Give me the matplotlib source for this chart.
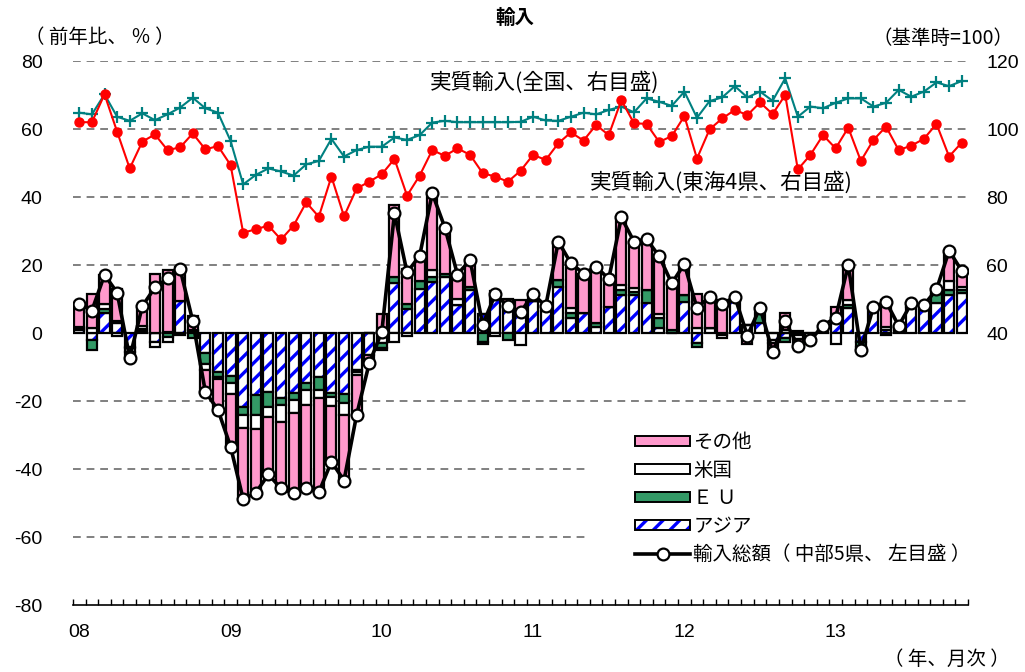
import matplotlib
matplotlib.use('Agg')
import matplotlib.pyplot as plt
import numpy as np
from matplotlib.patches import Patch
from matplotlib.lines import Line2D
from matplotlib.legend_handler import HandlerTuple

plt.rcParams['font.family'] = ['Noto Sans CJK JP', 'DejaVu Sans']
plt.rcParams['hatch.linewidth'] = 2.4

# ---------------- data (2008-01 .. 2013-11, monthly) ----------------
year_labels = ['08', '09', '10', '11', '12', '13']

asia = [0.8, -2, 6, 3, -4, 0.5, -2.5, 0.3, 9.5, 0.5,
        -6, -11.4, -12.6, -21.9, -18.2, -17.3, -19.2, -17.5, -14.8, -13,
        -17.5, -17.9, -10.9, -6.5, -3, 14.8, 7.2, 13, 15.1, 16.5,
        8.2, 12.6, 5.5, 10.7, 8, 6.7, 9.4, 6.5, 13.6, 4.3,
        5.8, 1.9, 7.7, 11.2, 11.2, 8.7, 1.5, 0, 9.2, -3,
        1.4, 0, 9.7, 2.5, 3, -2, -1.5, -0.5, -1, 1,
        2.8, 7.3, -2.5, 7.7, 0.9, 1.5, 7.7, 7.2, 8.7, 11.2, 11.7]
eu = [0.3, -3, 1.2, 0.5, -0.5, 0.7, 0, -1.3, -0.5, -1.5,
      -3, -1.5, -2.2, -2.3, -5.9, -4.4, -2, -2.2, -2, -3.7,
      -1.4, -2.7, -0.5, 0, -1.5, 1.8, 1.4, 2.4, 1.3, 1,
      0, 1, -2.5, 0, -2, 0, 0, 1.4, 2, 1.5,
      0, 1, 0, 1.5, 1, 3.9, 2.9, 1, 2, -1.2,
      0, -0.5, 1, 0, 4.5, 0, -1, 0.5, -0.6, 1.2,
      0, 1, -1.5, 0, -0.5, 0.6, 1, 1, 2.9, 1.5, 1]
us = [0.8, 1.5, 1.2, -1, -1, 1, -1.5, -1.2, 0, 0.5,
      -2, -0.5, -3, -3.6, -4.2, -2.9, -4.9, -3.9, -4.4, -2.5,
      -2.5, -3.4, -1, 0, -0.6, -2.5, -1, 0, 2.2, 0,
      1.7, 0, -0.6, -1, 0, -3.5, 0, 0, 0, 1.5,
      0, 0, 0, 1.5, 1, 0, 1.3, 0, 0, 1.5,
      0, -0.9, 0, 0, 0, -1, 1, -1.2, 0, 0,
      -3.2, 1.5, 0, 0, 1, 0, 0, 0, 0, 2.5, 0.7]
other = [6.5, 10.1, 8.7, 9.4, -1.8, 5.7, 17.4, 18.3, 9.8, 4,
         -6.3, -9.2, -15.6, -21.1, -18.7, -17.0, -19.6, -23.6, -24.5, -27.7,
         -16.4, -19.4, -11.7, -2.4, 5.5, 21.1, 10.2, 7.3, 22.5, 13.5,
         7.3, 7.9, 0, 1.7, 1.9, 2.9, 2, 0, 11.3, 13.2,
         11.7, 16.6, 8.2, 19.8, 13.7, 15, 16.9, 13.6, 9.1, 10,
         9.3, 9.8, 0, -3.3, 0, -2.5, 5, -2.5, -0.5, 0,
         4.9, 10.2, -1, 0, 7.8, 0, 0, 0, 1.2, 9, 4.9]
total = [8.4, 6.6, 17.1, 11.9, -7.3, 7.9, 13.4, 16.1, 18.8, 3.5,
         -17.3, -22.6, -33.4, -48.9, -47.0, -41.6, -45.7, -47.2, -45.7, -46.9,
         -37.8, -43.4, -24.1, -8.9, 0.4, 35.2, 17.8, 22.7, 41.1, 31.0,
         17.2, 21.5, 2.4, 11.4, 7.9, 6.1, 11.4, 7.9, 26.9, 20.5,
         17.5, 19.5, 15.9, 34.0, 26.9, 27.6, 22.6, 14.6, 20.3, 7.3,
         10.7, 8.4, 10.7, -0.8, 7.5, -5.5, 3.5, -3.7, -2.1, 2.2,
         4.5, 20.0, -5.0, 7.7, 9.2, 2.1, 8.7, 8.2, 12.8, 24.2, 18.3]
real_zenkoku = [104.8, 104.3, 110.2, 103.6, 102.4, 104.6, 102.6, 104.3, 106.3, 109.2,
                106.1, 104.8, 96.5, 83.7, 86.5, 88.4, 87.5, 86.3, 89.6, 90.6,
                97.1, 91.9, 93.8, 94.8, 94.8, 97.5, 96.8, 98.2, 101.9, 102.4,
                102.0, 102.0, 102.0, 102.0, 102.0, 102.1, 103.6, 102.5, 102.4, 103.6,
                104.8, 104.3, 105.6, 106.6, 104.9, 109.0, 108.0, 106.8, 111.0, 103.3,
                108.2, 109.3, 112.6, 109.3, 111.0, 108.3, 114.9, 103.6, 106.6, 106.1,
                107.7, 109.0, 109.0, 106.6, 107.7, 111.5, 109.5, 111.0, 113.7, 112.6, 114.1]
real_tokai = [102.0, 102.0, 110.2, 99.2, 88.4, 96.3, 98.4, 93.8, 94.6, 98.7,
              94.0, 95.0, 89.4, 69.5, 70.5, 71.6, 67.5, 71.6, 78.4, 74.2,
              86.0, 74.3, 82.5, 84.5, 86.7, 91.2, 80.4, 86.3, 93.8, 92.1,
              94.3, 92.4, 87.0, 86.0, 84.5, 87.7, 92.4, 90.9, 95.8, 99.0,
              96.6, 101.2, 98.2, 108.5, 101.7, 101.5, 96.2, 97.9, 103.8, 91.3,
              99.9, 103.1, 105.6, 104.1, 107.8, 104.4, 110.0, 88.1, 92.4, 98.2,
              94.3, 100.4, 90.6, 96.8, 100.7, 93.8, 95.1, 97.1, 101.5, 91.9, 96.0]

n = len(total)
x = np.arange(n)

W, H = 1025, 672
fig = plt.figure(figsize=(W / 100, H / 100), dpi=100)
ax = fig.add_axes([73 / W, 1 - 605 / H, (968 - 73) / W, (605 - 61) / H])
ax2 = ax.twinx()

ax.set_xlim(-0.5, n - 0.5)
ax.set_ylim(-80, 80)
ax2.set_ylim(-40, 120)

# gridlines
grid_kw = dict(color='#808080', lw=1.4, ls=(0, (4, 3)), zorder=0.5)
for yv in [80, 60, 40, 20, 0, -20]:
    ax.axhline(yv, **grid_kw)
for yv in [-40, -60]:
    ax.axhline(yv, xmin=0, xmax=(590 - 73) / (968 - 73), **grid_kw)

# stacked bars
bw = 0.8
pos_base = np.zeros(n)
neg_base = np.zeros(n)
pink = '#FF99CC'
green = '#339966'
styles = [('asia', None), ('eu', green), ('us', 'white'), ('other', pink)]
for vals, (name, col) in zip([asia, eu, us, other], styles):
    v = np.array(vals, dtype=float)
    bottom = np.where(v >= 0, pos_base, neg_base)
    if name == 'asia':
        ax.bar(x, v, bw, bottom=bottom, color='white', edgecolor='#0000FF',
               hatch='//', linewidth=0, zorder=2)
        ax.bar(x, v, bw, bottom=bottom, fill=False, edgecolor='black',
               linewidth=1.6, zorder=2.1)
    else:
        ax.bar(x, v, bw, bottom=bottom, color=col, edgecolor='black',
               linewidth=1.6, zorder=2.1)
    pos_base += np.where(v > 0, v, 0)
    neg_base += np.where(v < 0, v, 0)

ax.plot(x, total, color='black', lw=2.6, marker='o', ms=8.5, mfc='white',
        mec='black', mew=1.6, zorder=5)

ax2.plot(x, real_zenkoku, color='#008080', lw=1.5, marker='+', ms=9, mew=1.6, zorder=3)
ax2.plot(x, real_tokai, color='#FF0000', lw=1.5, marker='o', ms=6.5, zorder=4)

# axes styling
for a in (ax, ax2):
    for s in ['top', 'left', 'right']:
        a.spines[s].set_visible(False)
ax.spines['bottom'].set_visible(True)
ax.spines['bottom'].set_linewidth(1.2)
ax2.spines['bottom'].set_visible(False)

tick_font = ['Liberation Sans Narrow', 'Liberation Sans', 'DejaVu Sans']
ax.set_yticks(np.arange(-80, 81, 20))
ax.set_yticklabels([str(v) for v in range(-80, 81, 20)], fontsize=14, family=tick_font)
ax.tick_params(axis='y', length=0, pad=22)
ax2.set_yticks([40, 60, 80, 100, 120])
ax2.set_yticklabels(['40', '60', '80', '100', '120'], fontsize=14, family=tick_font)
ax2.tick_params(axis='y', length=0, pad=13)

ax.set_xticks(np.arange(0, n, 12))
ax.set_xticklabels(year_labels, fontsize=14, family=tick_font)
ax.set_xticks(np.arange(-0.5, n, 1), minor=True)
ax.tick_params(axis='x', which='major', length=0, pad=14)
ax.tick_params(axis='x', which='minor', direction='in', length=4, width=1)

# texts
def ftext(px, py, s, **kw):
    fig.text(px / W, 1 - py / H, s, **kw)

ftext(515, 18, '輸入', ha='center', va='center', fontsize=14, fontweight='bold')
ftext(25, 37, '（ 前年比、 ％ ）', ha='left', va='center', fontsize=14)
ftext(1013, 39, '（基準時=100）', ha='right', va='center', fontsize=14)
ftext(1010, 659, '（ 年、月次 ）', ha='right', va='center', fontsize=14)
ftext(430, 82, '実質輸入(全国、右目盛)', ha='left', va='center', fontsize=15.5)
ftext(590, 182, '実質輸入(東海4県、右目盛)', ha='left', va='center', fontsize=15.5)

# legend
handles = [
    Patch(facecolor=pink, edgecolor='black', linewidth=1.4),
    Patch(facecolor='white', edgecolor='black', linewidth=1.4),
    Patch(facecolor=green, edgecolor='black', linewidth=1.4),
    (Patch(facecolor='white', edgecolor='#0000FF', hatch='//', linewidth=0),
     Patch(fill=False, edgecolor='black', linewidth=1.4)),
    Line2D([], [], color='black', lw=2.6, marker='o', ms=8.5, mfc='white', mec='black', mew=1.6),
]
labels = ['その他', '米国', 'Ｅ Ｕ', 'アジア', '輸入総額（ 中部5県、 左目盛 ）']
leg = fig.legend(handles, labels, loc='upper left',
                 bbox_to_anchor=(635 / W, 1 - 432 / H), bbox_transform=fig.transFigure,
                 frameon=False, fontsize=14, handlelength=2.85, handleheight=0.45,
                 handletextpad=0.15, labelspacing=0.36, borderpad=0, borderaxespad=0,
                 handler_map={tuple: HandlerTuple(ndivide=1, pad=0)})

fig.savefig('out.png', dpi=100)
